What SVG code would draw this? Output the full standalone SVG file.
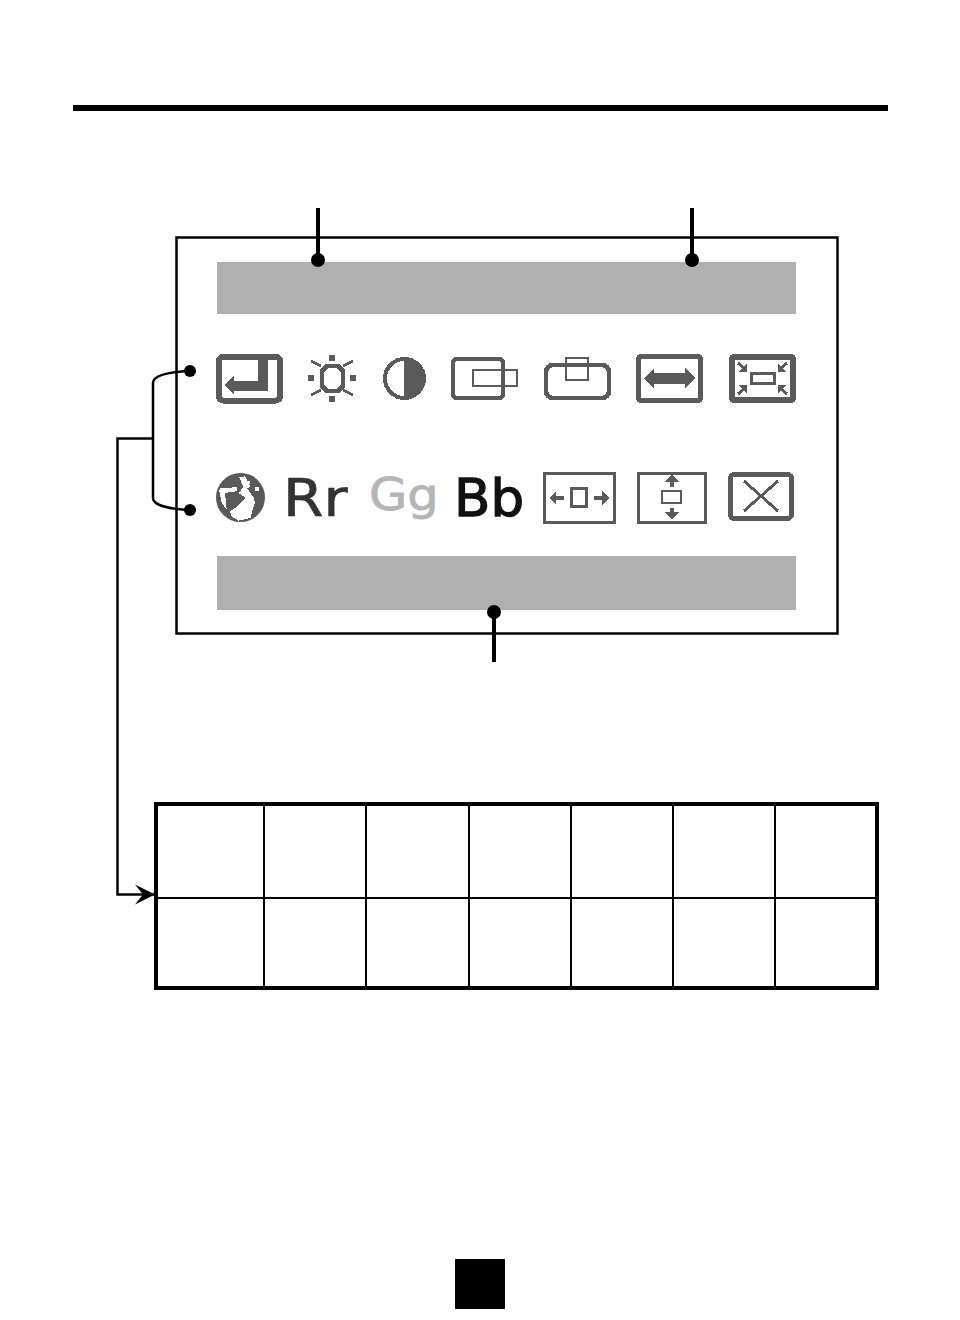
<svg xmlns="http://www.w3.org/2000/svg" width="960" height="1320" viewBox="0 0 960 1320">
<style>
.ic{fill:none;stroke:#5a5a5a;shape-rendering:crispEdges}
.f{fill:#5a5a5a;stroke:none;shape-rendering:crispEdges}
.w{fill:#fff;stroke:none;shape-rendering:crispEdges}
.bar{fill:#b0b0b0}
.ln{fill:none;stroke:#000}
.dot{fill:#000}
.t{font-family:"DejaVu Sans","Liberation Sans",sans-serif}
</style>
<defs>
<marker id="ah" markerUnits="userSpaceOnUse" markerWidth="22" markerHeight="22" refX="20" refY="11" orient="auto"><path d="M0 1L20 11L0 21L8 11Z" fill="#000"/></marker>
</defs>
<rect width="960" height="1320" fill="#fff"/>
<g id="header-rule"><rect x="73" y="105" width="815" height="6" fill="#000"/></g>
<g id="osd-panel">
<rect x="176.500" y="237.500" width="661" height="396" fill="#fff" stroke="#000" stroke-width="2.500"/>
<rect class="bar" x="217" y="262" width="579" height="52"/>
<rect class="bar" x="217" y="556" width="579" height="54"/>
</g>
<g id="icon-exit">
<rect class="ic" x="219" y="357" width="61" height="43.500" rx="4" stroke-width="6"/>
<path class="ic" d="M262.500 360V385.500H232" stroke-width="10"/>
<path class="f" d="M225 385L234 375V395Z"/>
</g>
<g id="icon-brightness">
<path class="ic" d="M327 366H338L343 371V386L338 391H327L322 386V371Z" stroke-width="4.500"/>
<path class="f" d="M329 355h6v6h-6ZM329 396h6v6h-6ZM308 375h6v6h-6ZM350 375h6v6h-6Z"/>
<path class="ic" d="M311 361L321 366M353 361L343 366M311 395L321 390M353 395L343 390" stroke-width="3"/>
</g>
<g id="icon-contrast">
<circle class="ic" cx="404.500" cy="378.500" r="19.500" stroke-width="4"/>
<path class="f" d="M404 357A21.500 21.500 0 0 1 404 400Z"/>
</g>
<g id="icon-hpos">
<rect class="ic" x="453" y="359" width="50" height="39" rx="4" stroke-width="4.500"/>
<rect class="w" x="505" y="370" width="12" height="16"/>
<rect class="ic" x="473" y="370" width="44" height="16" stroke-width="2.400"/>
</g>
<g id="icon-vpos">
<rect class="ic" x="546" y="365" width="63" height="33" rx="7" stroke-width="4.500"/>
<rect class="w" x="566" y="358" width="22" height="5"/>
<rect class="ic" x="566" y="358" width="22" height="22" stroke-width="2.400"/>
</g>
<g id="icon-hsize">
<rect class="ic" x="638.500" y="356.500" width="62" height="44" rx="3" stroke-width="5.500"/>
<path class="f" d="M644 378L654 368V373H685V368L695 378L685 389V384H654V389Z"/>
</g>
<g id="icon-zoom">
<rect class="ic" x="732" y="357" width="61" height="43" rx="2" stroke-width="6"/>
<rect class="ic" x="751" y="373" width="23" height="10" stroke-width="3"/>
<path class="ic" d="M738 363L746 370M787 363L779 370M738 394L746 387M787 394L779 387" stroke-width="3"/>
<path class="f" d="M747 372H739L747 363ZM778 372H786L778 363ZM747 385H739L747 394ZM778 385H786L778 394Z"/>
</g>
<g id="icon-language">
<circle cx="240.500" cy="497.500" r="24.500" fill="#5a5a5a"/>
<g transform="translate(210 468) scale(.3333)">
<path class="w" d="M88 28L105 25L120 55L112 62L132 90L135 105L128 125L122 150L85 158L65 145L60 130L78 118L98 100L108 90L85 75L100 58Z"/>
<path class="w" d="M28 70L30 60L80 58L80 70L45 75L50 125L35 105Z"/>
<path class="w" d="M135 58h11v11h-11ZM112 40h8v8h-8Z"/>
</g>
</g>
<g id="icon-red"><text class="t" transform="translate(283 516) scale(1.12 1)" font-size="52" fill="#333" stroke="#333" stroke-width="0.700">Rr</text></g>
<g id="icon-green"><text class="t" transform="translate(369 510) scale(1.1 1)" font-size="45" fill="#b5b5b5" stroke="#b5b5b5" stroke-width="0.800">Gg</text></g>
<g id="icon-blue"><text class="t" transform="translate(454 516) scale(1.02 1)" font-size="52" fill="#111" stroke="#111" stroke-width="1.300">Bb</text></g>
<g id="icon-hwidth">
<rect class="ic" x="544.500" y="473.500" width="70" height="49" stroke-width="3"/>
<rect class="ic" x="571.500" y="488.500" width="15" height="18" stroke-width="2.600"/>
<path class="f" d="M549 498L556 491V496H564V500H556V505ZM609 498L602 491V496H594V500H602V505Z"/>
</g>
<g id="icon-vheight">
<rect class="ic" x="638.500" y="473.500" width="67" height="49" stroke-width="3"/>
<rect class="ic" x="662" y="491" width="19" height="12" stroke-width="2.600"/>
<path class="f" d="M672 475L679 482H674V487H670V482H664ZM672 519L679 512H674V508H670V512H664Z"/>
</g>
<g id="icon-close">
<rect class="ic" x="730.500" y="474.500" width="61" height="44" rx="4" stroke-width="5"/>
<path class="ic" d="M744 481L778 511M778 481L744 511" stroke-width="3"/>
</g>
<g id="table">
<rect class="ln" x="156" y="804" width="721" height="184" stroke-width="4"/>
<path class="ln" stroke-width="2" d="M156 898H877M264 804V988M366 804V988M469 804V988M571 804V988M673 804V988M775 804V988"/>
</g>
<g id="page-number-box"><rect x="455" y="1259" width="50" height="50" fill="#000"/></g>
<g id="connectors">
<path class="ln" stroke-width="4" d="M318 208V260M692 208V260M494 612V662"/>
<circle class="dot" cx="318" cy="260" r="7"/>
<circle class="dot" cx="692" cy="260" r="7"/>
<circle class="dot" cx="494" cy="612" r="7"/>
<path class="ln" stroke-width="2.500" d="M190 371C168 372 153 375 153 383V498C153 505 168 509 190 510"/>
<circle class="dot" cx="190" cy="371" r="6"/>
<circle class="dot" cx="190" cy="510" r="6"/>
<path class="ln" stroke-width="2.500" marker-end="url(#ah)" d="M153 438.500H117.500V894.500H155"/>
</g>
</svg>
